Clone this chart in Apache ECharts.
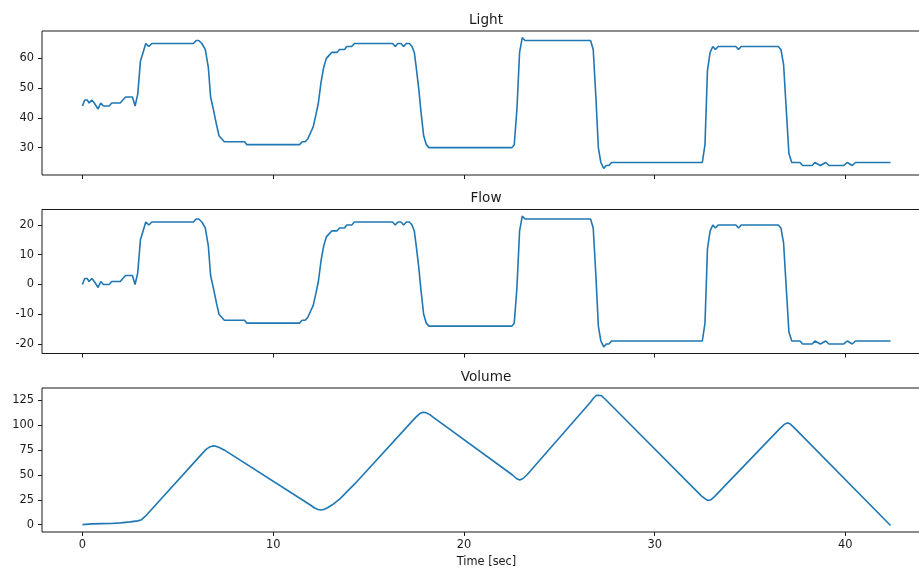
<!DOCTYPE html>
<html>
<head>
<meta charset="utf-8">
<script src="https://cdn.jsdelivr.net/npm/echarts@6/dist/echarts.min.js"></script>
<style>
html,body{margin:0;padding:0;background:#fff;}
#chart{width:919px;height:570px;}
</style>
</head>
<body>
<div id="chart"></div>
<script>
// ---- data ----
const time = [0,0.12,0.25,0.35,0.49,0.62,0.72,0.82,0.96,1.10,1.40,1.54,1.98,2.12,2.26,2.62,2.76,2.90,3.04,3.18,3.32,3.48,3.64,5.82,5.96,6.10,6.26,6.44,6.60,6.72,6.86,7.02,7.16,7.30,7.44,8.50,8.62,11.38,11.52,11.68,11.82,11.96,12.10,12.24,12.37,12.51,12.65,12.79,12.93,13.07,13.34,13.48,13.74,13.86,14.12,14.26,16.26,16.40,16.54,16.70,16.84,16.98,17.14,17.28,17.40,17.50,17.63,17.75,17.89,18.03,18.17,22.52,22.64,22.78,22.92,23.06,23.20,26.64,26.78,26.92,27.05,27.18,27.33,27.46,27.60,27.74,32.50,32.64,32.77,32.91,33.05,33.19,33.33,34.26,34.40,34.54,36.48,36.62,36.76,36.90,37.04,37.19,37.62,37.76,38.26,38.40,38.69,38.97,39.14,39.92,40.10,40.36,40.53,42.37];

const light = [44,46,46,45,46,45,44,43,45,44,44,45,45,46,47,47,44,48,59,62,65,64,65,65,66,66,65,63,57,47,43,38,34,33,32,32,31,31,32,32,33,35,37,41,45,52,57,60,61,62,62,63,63,64,64,65,65,64,65,65,64,65,65,64,62,57,50,42,34,31,30,30,31,43,62,67,66,66,63,47,30,25,23,24,24,25,25,31,56,62,64,63,64,64,63,64,64,63,58,43,28,25,25,24,24,25,24,25,24,24,25,24,25,25];

const flow = [0,2,2,1,2,1,0,-1,1,0,0,1,1,2,3,3,0,4,15,18,21,20,21,21,22,22,21,19,13,3,-1,-6,-10,-11,-12,-12,-13,-13,-12,-12,-11,-9,-7,-3,1,8,13,16,17,18,18,19,19,20,20,21,21,20,21,21,20,21,21,20,18,13,6,-2,-10,-13,-14,-14,-13,-1,18,23,22,22,19,3,-14,-19,-21,-20,-20,-19,-19,-13,12,18,20,19,20,20,19,20,20,19,14,-1,-16,-19,-19,-20,-20,-19,-20,-19,-20,-20,-19,-20,-19,-19];

const volumeTime = [0,0.5,1.0,1.5,2.0,2.5,2.9,3.1,3.3,6.3,6.5,6.7,6.85,7.0,7.2,7.45,11.95,12.15,12.35,12.5,12.65,12.85,13.1,13.5,14.3,17.3,17.5,17.7,17.85,18.0,18.2,18.4,22.55,22.75,22.93,23.1,23.3,26.6,26.8,26.95,27.05,27.2,27.4,32.45,32.65,32.8,32.95,33.15,36.6,36.8,36.95,37.1,37.3,42.37];
const volume = [0,0.8,1.0,1.2,1.8,2.8,3.8,5,8.5,72,76,78.5,79.3,79,77.5,75,19.8,17,15.3,14.8,15.3,17,20,26,41.5,104.5,108.5,112,113.2,112.8,111,108,50,46.5,45,46.5,50,122.5,127.5,130.3,131,130,126.5,29,26,24.3,25,28.5,97.5,101,102.4,101.5,98,-0.8];

const titles = ['Light','Flow','Volume'];
const xTicks = [0,10,20,30,40];
const lightTicks = [30,40,50,60];
const flowTicks = [-20,-10,0,10,20];
const volumeTicks = [0,25,50,75,100,125];
const xLabel = 'Time [sec]';

// ---- chart ----
const zip = (xs, ys) => xs.map((x, i) => [x, ys[i]]);
const FONT = 'DejaVu Sans';
const INK = '#1a1a1a';
const gridTops = [31, 209.5, 388];
const gridH = 144;

function xAxisFor(i, showLabels) {
  return {
    type: 'value', gridIndex: i, min: -2.12, max: 44.49, position: 'bottom',
    axisLine: {show: false, onZero: false},
    axisTick: {show: true, customValues: xTicks, length: 4, lineStyle: {color: INK, width: 1}},
    axisLabel: {show: showLabels, customValues: xTicks, margin: 8, fontSize: 11.4, fontFamily: FONT, color: INK},
    splitLine: {show: false},
    name: showLabels ? xLabel : '',
    nameLocation: 'middle', nameGap: 25,
    nameTextStyle: {fontSize: 11.4, fontFamily: FONT, color: INK}
  };
}
function yAxisFor(i, mn, mx, ticks) {
  return {
    type: 'value', gridIndex: i, min: mn, max: mx, position: 'left',
    axisLine: {show: false, onZero: false},
    axisTick: {show: true, customValues: ticks, length: 4, lineStyle: {color: INK, width: 1}},
    axisLabel: {show: true, customValues: ticks, margin: 8, fontSize: 11.4, fontFamily: FONT, color: INK},
    splitLine: {show: false}
  };
}
const titleCenters = [20, 198.5, 377];

const option = {
  animation: false,
  backgroundColor: '#fff',
  title: titles.map((t, i) => ({
    text: t, left: 486, top: titleCenters[i], textAlign: 'center', textVerticalAlign: 'middle', padding: 0,
    textStyle: {fontSize: 13.6, fontWeight: 'normal', fontFamily: FONT, color: INK}
  })),
  grid: gridTops.map(t => ({
    left: 42, top: t, width: 889, height: gridH, show: true,
    outerBoundsMode: 'none', containLabel: false,
    borderColor: INK, borderWidth: 1, backgroundColor: 'transparent'
  })),
  xAxis: [xAxisFor(0, false), xAxisFor(1, false), xAxisFor(2, true)],
  yAxis: [
    yAxisFor(0, 20.8, 69.2, lightTicks),
    yAxisFor(1, -23.2, 25.2, flowTicks),
    yAxisFor(2, -7.4, 137.6, volumeTicks)
  ],
  series: [
    {type: 'line', xAxisIndex: 0, yAxisIndex: 0, data: zip(time, light), showSymbol: false, lineStyle: {color: '#1f77b4', width: 1.6}},
    {type: 'line', xAxisIndex: 1, yAxisIndex: 1, data: zip(time, flow), showSymbol: false, lineStyle: {color: '#1f77b4', width: 1.6}},
    {type: 'line', xAxisIndex: 2, yAxisIndex: 2, data: zip(volumeTime, volume), showSymbol: false, lineStyle: {color: '#1f77b4', width: 1.6}}
  ]
};
const chart = echarts.init(document.getElementById('chart'), null, {renderer: 'canvas'});
chart.setOption(option);
</script>
</body>
</html>
